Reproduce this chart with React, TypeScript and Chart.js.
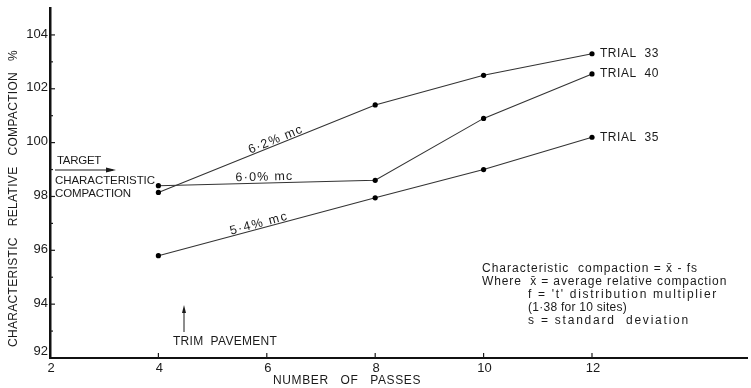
import React, { useEffect, useRef } from 'react';
import { Chart, registerables } from 'chart.js';

Chart.register(...registerables);

// ---- data ----
const passes = [4, 8, 10, 12];
const trial33 = [98.15, 101.4, 102.5, 103.3];
const trial40 = [98.4, 98.6, 100.9, 102.55];
const trial35 = [95.8, 97.95, 99.0, 100.2];
const seriesNames = ['TRIAL  33', 'TRIAL  40', 'TRIAL  35'];
const mcLabels = ['6·2% mc', '6·0% mc', '5·4% mc'];
const xTicks = [2, 4, 6, 8, 10, 12];
const yTicks = [92, 94, 96, 98, 100, 102, 104];
const yMinorTicks = [93, 95, 97, 99, 101, 103];
const formulaLines = [
  'Characteristic  compaction = x̄ - fs',
  'Where  x̄ = average relative compaction',
  'f = \'t\' distribution multiplier',
  '(1·38 for 10 sites)',
  's = standard  deviation',
];
const xTitle = 'NUMBER   OF   PASSES';
const yTitle = 'CHARACTERISTIC   RELATIVE   COMPACTION   %';

const FONT = '"Liberation Sans", Arial, sans-serif';
const INK = '#1a1a1a';

function drawFit(ctx: CanvasRenderingContext2D, text: string, x: number, y: number, width: number) {
  const c: any = ctx;
  c.letterSpacing = '0px';
  const w = ctx.measureText(text).width;
  const n = Array.from(text).length;
  const ls = Math.max(-0.6, (width - w) / Math.max(1, n));
  c.letterSpacing = ls.toFixed(2) + 'px';
  ctx.textAlign = 'left';
  ctx.fillText(text, x, y);
  c.letterSpacing = '0px';
}

const overlay = {
  id: 'overlay',
  afterDraw(chart: any) {
    const ctx: CanvasRenderingContext2D = chart.ctx;
    const xs = chart.scales.x;
    const ys = chart.scales.y;
    const { left, bottom } = chart.chartArea;
    ctx.save();
    ctx.fillStyle = INK;
    ctx.strokeStyle = INK;

    // y ticks
    ctx.lineWidth = 1.2;
    ctx.font = '13px ' + FONT;
    ctx.textBaseline = 'middle';
    yTicks.forEach((v) => {
      const py = ys.getPixelForValue(v);
      if (v !== yTicks[0]) {
        ctx.beginPath();
        ctx.moveTo(left, py);
        ctx.lineTo(left + 5, py);
        ctx.stroke();
      }
      ctx.textAlign = 'right';
      ctx.fillText(String(v), left - 2, py - (v === yTicks[0] ? 7 : 1));
    });
    yMinorTicks.forEach((v) => {
      const py = ys.getPixelForValue(v);
      ctx.beginPath();
      ctx.moveTo(left, py);
      ctx.lineTo(left + 3, py);
      ctx.stroke();
    });
    // x ticks
    xTicks.forEach((v) => {
      const px = xs.getPixelForValue(v);
      if (v !== xTicks[0]) {
        ctx.beginPath();
        ctx.moveTo(px, bottom);
        ctx.lineTo(px, bottom - 5);
        ctx.stroke();
      }
      ctx.textAlign = 'center';
      ctx.fillText(String(v), px + 1, bottom + 10);
    });

    // axis titles
    ctx.font = '12px ' + FONT;
    ctx.textBaseline = 'middle';
    drawFit(ctx, xTitle, 273, 381, 148);
    ctx.save();
    ctx.translate(14, 347);
    ctx.rotate(-Math.PI / 2);
    drawFit(ctx, yTitle, 0, 0, 297);
    ctx.restore();

    // target annotation
    ctx.font = '11.5px ' + FONT;
    drawFit(ctx, 'TARGET', 57, 161, 44);
    ctx.lineWidth = 1;
    ctx.beginPath();
    ctx.moveTo(55, 170);
    ctx.lineTo(113, 170);
    ctx.stroke();
    ctx.beginPath();
    ctx.moveTo(116, 170);
    ctx.lineTo(106, 167.5);
    ctx.lineTo(106, 172.5);
    ctx.closePath();
    ctx.fill();
    drawFit(ctx, 'CHARACTERISTIC', 55, 181, 100);
    drawFit(ctx, 'COMPACTION', 55, 194, 76);

    // trim pavement
    ctx.font = '12px ' + FONT;
    drawFit(ctx, 'TRIM  PAVEMENT', 173, 342, 104);
    ctx.beginPath();
    ctx.moveTo(184, 332);
    ctx.lineTo(184, 310);
    ctx.stroke();
    ctx.beginPath();
    ctx.moveTo(184, 305);
    ctx.lineTo(182, 313);
    ctx.lineTo(186, 313);
    ctx.closePath();
    ctx.fill();

    // series end labels
    const series = [trial33, trial40, trial35];
    series.forEach((s, i) => {
      const px = xs.getPixelForValue(passes[passes.length - 1]);
      const py = ys.getPixelForValue(s[s.length - 1]);
      drawFit(ctx, seriesNames[i], px + 8, py, 59);
    });

    // moisture content labels along first segment
    const tPos = [0.55, 0.49, 0.47];
    const lift = [1.5, 2.5, 1.5];
    const widths = [58, 58, 60];
    series.forEach((s, i) => {
      const x0 = xs.getPixelForValue(passes[0]);
      const y0 = ys.getPixelForValue(s[0]);
      const x1 = xs.getPixelForValue(passes[1]);
      const y1 = ys.getPixelForValue(s[1]);
      const ang = Math.atan2(y1 - y0, x1 - x0);
      const cx = x0 + (x1 - x0) * tPos[i];
      const cy = y0 + (y1 - y0) * tPos[i];
      ctx.save();
      ctx.translate(cx, cy);
      ctx.rotate(ang);
      ctx.font = '12.5px ' + FONT;
      ctx.textBaseline = 'alphabetic';
      drawFit(ctx, mcLabels[i], -widths[i] / 2, -lift[i], widths[i]);
      ctx.restore();
    });

    // formula block
    ctx.font = '12px ' + FONT;
    ctx.textBaseline = 'middle';
    const fx = [482, 482, 528, 528, 528];
    const fy = [269, 282, 295, 308, 321];
    const fw = [217, 246, 190, 99, 162];
    formulaLines.forEach((line, i) => drawFit(ctx, line, fx[i], fy[i], fw[i]));

    ctx.restore();
  },
};

export default function App() {
  const ref = useRef<HTMLCanvasElement | null>(null);
  useEffect(() => {
    if (!ref.current) return;
    const mk = (vals: number[]) => ({
      data: passes.map((p, i) => ({ x: p, y: vals[i] })),
      borderColor: '#333',
      borderWidth: 1.1,
      pointRadius: 2.6,
      pointBackgroundColor: '#000',
      pointBorderColor: '#000',
      pointBorderWidth: 0,
      tension: 0,
      fill: false,
    });
    const chart = new Chart(ref.current, {
      type: 'line',
      data: { datasets: [mk(trial33), mk(trial40), mk(trial35)] as any },
      options: {
        responsive: false,
        animation: false,
        devicePixelRatio: 1,
        layout: { padding: { left: 50, top: 8, right: 0, bottom: 30 } },
        plugins: { legend: { display: false }, tooltip: { enabled: false } },
        scales: {
          x: {
            type: 'linear',
            min: 2,
            max: 14.86,
            ticks: { display: false },
            grid: { display: true, drawOnChartArea: false, drawTicks: false },
            border: { display: true, color: '#111', width: 2 },
          },
          y: {
            type: 'linear',
            min: 92,
            max: 105,
            ticks: { display: false },
            grid: { display: true, drawOnChartArea: false, drawTicks: false },
            border: { display: true, color: '#111', width: 2.5 },
          },
        },
      },
      plugins: [overlay],
    });
    return () => chart.destroy();
  }, []);
  return (
    <div style={{ position: 'fixed', left: 0, top: 0, width: 751, height: 388, background: '#fff' }}>
      <canvas ref={ref} width={751} height={388} style={{ width: 751, height: 388 }} />
    </div>
  );
}
